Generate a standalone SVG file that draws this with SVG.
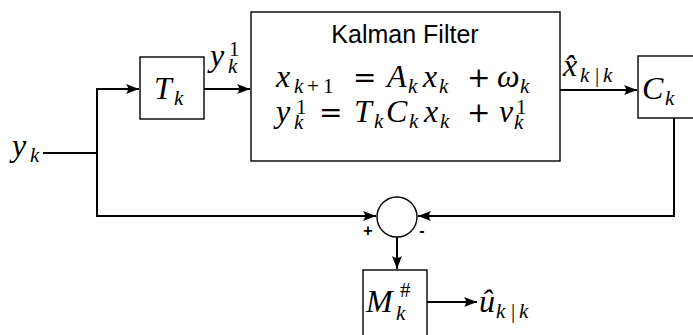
<svg xmlns="http://www.w3.org/2000/svg" width="693" height="335" viewBox="0 0 693 335">
<style>
.box{fill:#fff;stroke:#000;stroke-width:1.4}
.ln{fill:none;stroke:#000;stroke-width:2}
.m{font-family:"Liberation Serif",serif;font-size:32px;font-style:italic;fill:#000}
.s{font-size:21px}
.u{font-style:normal}
.op{font-family:"DejaVu Serif",serif;font-style:normal;font-size:28px}
.sans{font-family:"Liberation Sans",Arial,sans-serif;fill:#000}
</style>
<defs>
<marker id="ah" markerUnits="userSpaceOnUse" markerWidth="16" markerHeight="12" viewBox="-14 -6 16 12" refX="0" refY="0" orient="auto">
<path d="M0,0 L-13,-5 Q-9,0 -13,5 Z" fill="#000"/>
</marker>
</defs>
<rect width="693" height="335" fill="#fff"/>
<g id="connectors">
<path class="ln" d="M43,153 H97"/>
<path class="ln" d="M97,217 V89 H139" marker-end="url(#ah)"/>
<path class="ln" d="M204,89 H250" marker-end="url(#ah)"/>
<path class="ln" d="M560,90 H637" marker-end="url(#ah)"/>
<path class="ln" d="M674,118 V216 H418" marker-end="url(#ah)"/>
<path class="ln" d="M97,216 H376" marker-end="url(#ah)"/>
<path class="ln" d="M397,237 V269" marker-end="url(#ah)"/>
<path class="ln" d="M427,302 H477" marker-end="url(#ah)"/>
</g>
<g id="input">
<text class="m"><tspan x="12" y="156">y</tspan><tspan class="s" x="30" y="162">k</tspan></text>
</g>
<g id="Tk">
<rect class="box" x="140" y="57" width="64" height="62"/>
<text class="m"><tspan x="154" y="99">T</tspan><tspan class="s" x="174" y="105">k</tspan></text>
</g>
<g id="y1label">
<text class="m"><tspan x="210" y="66">y</tspan><tspan class="s u" x="229" y="56">1</tspan><tspan class="s" x="228" y="73">k</tspan></text>
</g>
<g id="kalman">
<rect class="box" x="251" y="12" width="309" height="149"/>
<text class="sans" x="405" y="43" font-size="25" text-anchor="middle">Kalman Filter</text>
<text class="m"><tspan x="276" y="87">x</tspan><tspan class="s" x="294" y="93">k</tspan><tspan class="s u" x="307" y="93">+</tspan><tspan class="s u" x="323" y="93">1</tspan><tspan class="op" x="353" y="87">=</tspan><tspan x="387" y="87">A</tspan><tspan class="s" x="408" y="93">k</tspan><tspan x="423" y="87">x</tspan><tspan class="s" x="439" y="93">k</tspan><tspan class="op" x="467" y="87">+</tspan><tspan x="497" y="87">ω</tspan><tspan class="s" x="520" y="93">k</tspan></text>
<text class="m"><tspan x="276" y="122">y</tspan><tspan class="s u" x="296" y="114">1</tspan><tspan class="s" x="294" y="129">k</tspan><tspan class="op" x="319" y="122">=</tspan><tspan x="354" y="122">T</tspan><tspan class="s" x="374" y="128">k</tspan><tspan x="386" y="122">C</tspan><tspan class="s" x="409" y="128">k</tspan><tspan x="424" y="122">x</tspan><tspan class="s" x="440" y="128">k</tspan><tspan class="op" x="467" y="122">+</tspan><tspan x="499" y="122">v</tspan><tspan class="s u" x="516" y="114">1</tspan><tspan class="s" x="514" y="129">k</tspan></text>
</g>
<g id="xhatlabel">
<text class="m"><tspan x="563" y="76">x̂</tspan><tspan class="s" x="580" y="82">k</tspan><tspan class="s u" x="595" y="82">|</tspan><tspan class="s" x="603" y="82">k</tspan></text>
</g>
<g id="Ck">
<rect class="box" x="638" y="56" width="62" height="62"/>
<text class="m"><tspan x="642" y="99">C</tspan><tspan class="s" x="665" y="105">k</tspan></text>
</g>
<g id="sum">
<circle class="box" cx="397" cy="217" r="20" stroke-width="2"/>
<text class="sans" x="368" y="236" font-size="16" font-weight="bold" text-anchor="middle">+</text>
<text class="sans" x="422" y="236" font-size="16" font-weight="bold" text-anchor="middle">-</text>
</g>
<g id="M">
<rect class="box" x="363" y="270" width="64" height="70"/>
<text class="m"><tspan x="366" y="312">M</tspan><tspan class="s u" x="400" y="297">#</tspan><tspan class="s" x="396" y="320">k</tspan></text>
</g>
<g id="uhatlabel">
<text class="m"><tspan x="479" y="312">û</tspan><tspan class="s" x="496" y="318">k</tspan><tspan class="s u" x="511" y="318">|</tspan><tspan class="s" x="519" y="318">k</tspan></text>
</g>
</svg>
